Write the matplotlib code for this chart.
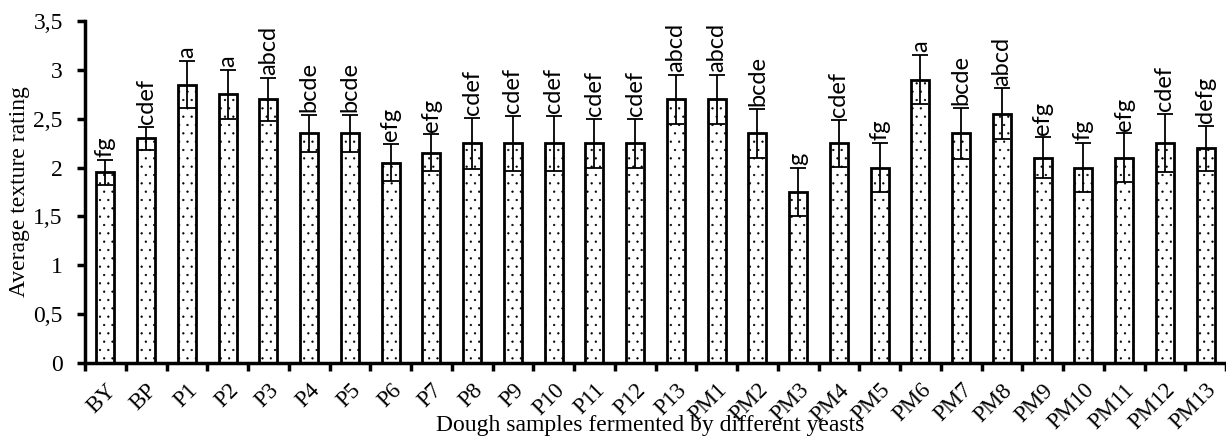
import matplotlib
matplotlib.use("Agg")
import matplotlib.pyplot as plt
import numpy as np

categories = ["BY", "BP", "P1", "P2", "P3", "P4", "P5", "P6", "P7", "P8", "P9", "P10",
              "P11", "P12", "P13", "PM1", "PM2", "PM3", "PM4", "PM5", "PM6", "PM7",
              "PM8", "PM9", "PM10", "PM11", "PM12", "PM13"]
means = [1.95, 2.30, 2.85, 2.75, 2.70, 2.35, 2.35, 2.05, 2.15, 2.25, 2.25, 2.25,
         2.25, 2.25, 2.70, 2.70, 2.35, 1.75, 2.25, 2.00, 2.90, 2.35,
         2.55, 2.10, 2.00, 2.10, 2.25, 2.20]
errors = [0.13, 0.12, 0.24, 0.25, 0.22, 0.19, 0.19, 0.19, 0.19, 0.26, 0.28, 0.28,
          0.25, 0.25, 0.25, 0.25, 0.25, 0.25, 0.24, 0.25, 0.25, 0.26,
          0.26, 0.21, 0.25, 0.25, 0.30, 0.23]
letters = ["fg", "cdef", "a", "a", "abcd", "bcde", "bcde", "efg", "efg", "cdef", "cdef", "cdef",
           "cdef", "cdef", "abcd", "abcd", "bcde", "g", "cdef", "fg", "a", "bcde",
           "abcd", "efg", "fg", "efg", "cdef", "defg"]
yticks = [0, 0.5, 1, 1.5, 2, 2.5, 3, 3.5]
ytick_labels = ["0", "0,5", "1", "1,5", "2", "2,5", "3", "3,5"]

plt.rcParams['hatch.linewidth'] = 0.4
serif = "Liberation Serif"
sans = "Lato"

fig = plt.figure(figsize=(12.26, 4.38), dpi=100)
ax = fig.add_axes([85/1226, 1 - 363/438, 1 - 85/1226, (363 - 21)/438])

x = np.arange(len(categories))
bars = ax.bar(x, means, width=0.44, facecolor="white", edgecolor="black",
              linewidth=2.0, hatch="..", zorder=2)
ax.errorbar(x, means, yerr=errors, fmt="none", ecolor="black", elinewidth=1.3,
            capsize=5.5, capthick=1.3, zorder=3)

for xi, m, e, lab in zip(x, means, errors, letters):
    ax.annotate(lab, (xi, m + e), xytext=(0, 2), textcoords="offset points",
                rotation=90, ha="center", va="bottom", fontsize=17, family=sans)

ax.set_ylim(0, 3.5)
ax.set_xlim(-0.5, 27.3)
ax.set_yticks(yticks)
ax.set_yticklabels(ytick_labels, family=serif, fontsize=17)
ax.set_xticks(x)
ax.set_xticklabels(categories, rotation=45, ha="right", va="top",
                   rotation_mode="anchor", family=serif, fontsize=16.5)
ax.set_xticks(np.arange(-0.5, len(categories), 1.0), minor=True)
ax.tick_params(axis="x", which="major", length=0, pad=12)
ax.tick_params(axis="x", which="minor", length=6, width=2.5, direction="out")
ax.tick_params(axis="y", length=6, width=2.5, direction="out", pad=10)

for s in ["top", "right"]:
    ax.spines[s].set_visible(False)
for s in ["left", "bottom"]:
    ax.spines[s].set_linewidth(2.5)

ax.set_ylabel("Average texture rating", family=serif, fontsize=17, labelpad=2)
fig.text(0.53, 0.005, "Dough samples fermented by different yeasts", family=serif,
         fontsize=17, ha="center", va="bottom")

fig.savefig("out.png", dpi=100)
